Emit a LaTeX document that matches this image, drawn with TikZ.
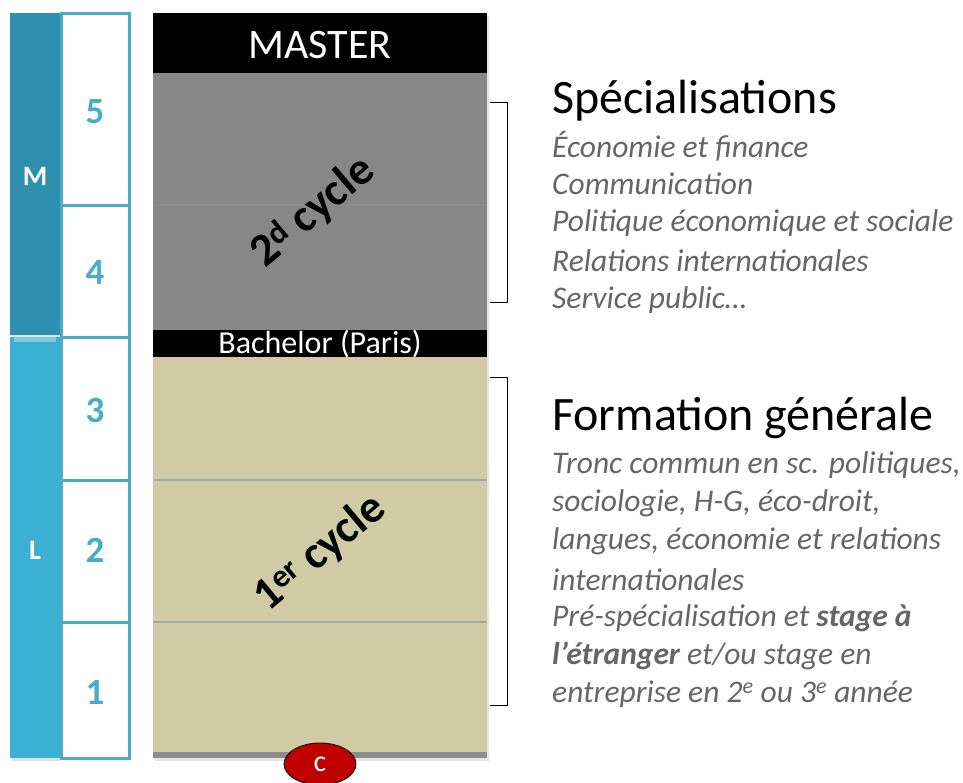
\documentclass[tikz,border=0pt]{standalone}
\usepackage{fontspec}
\setmainfont{Carlito}
\usetikzlibrary{shapes.geometric}
\definecolor{tealA}{HTML}{4BACC6}
\definecolor{tealM}{HTML}{2E8FAE}
\definecolor{tealL}{HTML}{3CB0D2}
\definecolor{grayB}{HTML}{878787}
\definecolor{beige}{HTML}{D0CBA4}
\definecolor{txtgray}{HTML}{666666}
\definecolor{cred}{HTML}{C00000}
\tikzset{
  numbox/.style={draw=tealA, line width=3pt, fill=white},
  numtxt/.style={text=tealA, font=\fontsize{37}{39}\selectfont\bfseries},
  lettxt/.style={text=white, font=\fontsize{28}{30}\selectfont\bfseries},
  divline/.style={line width=1.5pt, draw=black!45},
  brack/.style={draw=black, line width=1pt},
  head/.style={anchor=west, font=\fontsize{48}{50}\selectfont, inner sep=0pt},
  item/.style={anchor=west, text=txtgray, font=\fontsize{31.5}{33}\selectfont\itshape, inner sep=0pt},
  cyc/.style={rotate=40, font=\fontsize{46}{48}\selectfont\bfseries, text=black}
}
\begin{document}
\begin{tikzpicture}[x=1pt,y=-1pt]
\useasboundingbox (0,0) rectangle (963,782);
% left blue bars
\fill[black!12] (12,16) rectangle (62,338);
\fill[black!12] (12,340) rectangle (62,761);
\fill[tealM] (10,13) rectangle (60,335);
\fill[tealL] (10,337) rectangle (60,758);
\fill[white,opacity=0.35] (14,337) rectangle (56,342);
\node[lettxt] (M) at (35,176) {M};
\node[lettxt] (L) at (35,550) {L};
% number column
\draw[numbox] (61,13) rectangle (129,758);
\draw[tealA, line width=3pt] (61,205) -- (129,205);
\draw[tealA, line width=3pt] (61,337) -- (129,337);
\draw[tealA, line width=3pt] (61,480) -- (129,480);
\draw[tealA, line width=3pt] (61,622) -- (129,622);
\node[numtxt] (n5) at (95,112) {5};
\node[numtxt] (n4) at (95,272) {4};
\node[numtxt] (n3) at (95,410) {3};
\node[numtxt] (n2) at (95,550) {2};
\node[numtxt] (n1) at (95,692) {1};
% main column
\fill[black!10] (155,16) rectangle (489,761);
\fill[grayB] (153,73) rectangle (487,330);
\fill[beige] (153,357) rectangle (487,758);
\draw[divline] (153,205) -- (487,205);
\draw[divline,draw=black!35] (153,480) -- (487,480);
\draw[divline,draw=black!35] (153,622) -- (487,622);
\fill[black!45] (153,752) rectangle (487,758);
\fill[black] (153,13) rectangle (487,73);
\fill[black] (153,330) rectangle (487,357);
\node[text=white, font=\fontsize{42}{44}\selectfont] (master) at (320,45) {MASTER};
\node[text=white, font=\fontsize{32}{34}\selectfont] (bach) at (320,344) {Bachelor (Paris)};
\node[cyc] (c2) at (313,212) {2\textsuperscript{d} cycle};
\node[cyc] (c1) at (320,553) {1\textsuperscript{er} cycle};
\node[ellipse, fill=cred, draw=black, line width=0.8pt, minimum width=72pt, minimum height=42pt, inner sep=0pt, text=white, font=\fontsize{30}{32}\selectfont] (c) at (320,764) {c};
% brackets
\draw[brack] (490,102) -- (507,102) -- (507,302) -- (490,302);
\draw[brack] (490,377) -- (507,377) -- (507,705) -- (490,705);
% right text
\node[head] (spec) at (552,101) {Spécialisations};
\node[item] (s1) at (552,146) {Économie et finance};
\node[item] (s2) at (552,184) {Communication};
\node[item] (s3) at (552,223) {Politique économique et sociale};
\node[item] (s4) at (552,261) {Relations internationales};
\node[item] (s5) at (552,300) {Service public…};
\node[head] (form) at (552,418) {Formation générale};
\node[item] (f1) at (552,465) {Tronc commun en sc. politiques,};
\node[item] (f2) at (552,503) {sociologie, H-G, éco-droit,};
\node[item] (f3) at (552,541) {langues, économie et relations};
\node[item] (f4) at (552,580) {internationales};
\node[item] (f5) at (552,618) {Pré-spécialisation et \textbf{stage à}};
\node[item] (f6) at (552,656) {\textbf{l’étranger} et/ou stage en};
\node[item] (f7) at (552,694) {entreprise en 2\textsuperscript{e} ou 3\textsuperscript{e} année};
\end{tikzpicture}
\end{document}
